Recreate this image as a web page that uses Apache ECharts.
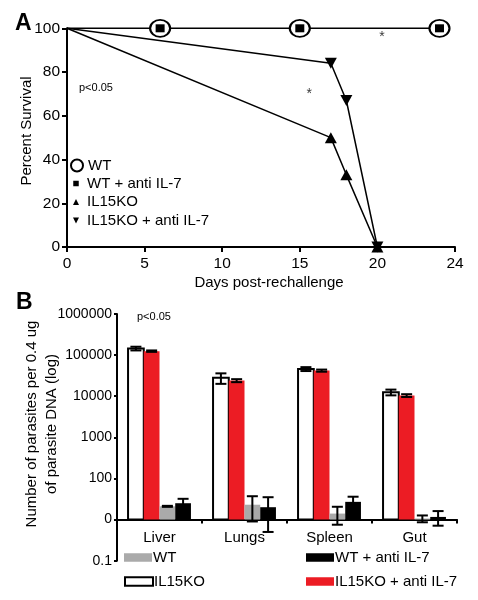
<!DOCTYPE html>
<html><head><meta charset="utf-8">
<script src="https://cdn.jsdelivr.net/npm/echarts@6/dist/echarts.min.js"></script>
<style>html,body{margin:0;padding:0;background:#fff}#c{width:478px;height:600px}</style>
</head><body><div id="c"></div>
<script>
// ---------- Panel A: survival ----------
const aXTickLabels = ['0', '5', '10', '15', '20', '24'];
const aYTickLabels = ['0', '20', '40', '60', '80', '100'];
const wtDays = [0, 6, 15, 24];
const wtSurv = [100, 100, 100, 100];
const wtAntiDays = [0, 6, 15, 24];
const wtAntiSurv = [100, 100, 100, 100];
const koDays = [0, 17, 18, 20];
const koSurv = [100, 50, 33, 0];
const koAntiDays = [0, 17, 18, 20];
const koAntiSurv = [100, 84, 67, 0];
const starX = [20.3, 15.6];
const starY = [96, 70];

// ---------- Panel B: parasite load ----------
const organs = ['Liver', 'Lungs', 'Spleen', 'Gut'];
const bYTickLabels = ['0.1', '0', '100', '1000', '10000', '100000', '1000000'];
const bBase = 10;
const koVals = [145000, 28000, 46000, 12500];
const koErr = [15000, 8000, 5000, 2000];
const koAntiVals = [125000, 24000, 42000, 10400];
const koAntiErr = [5000, 2000, 2500, 800];
const wtVals = [21, 23, 14, 10.6];
const wtErr = [0.6, 14, 6.5, 2];
const wtAntiVals = [25, 20, 27, 11.6];
const wtAntiErr = [7, 15, 9, 4.5];

const FONT = "'Liberation Sans', Arial, Helvetica, sans-serif";
const BLACK = '#000';

function linePts(xs, ys) {
  return xs.map((x, i) => i === 0 ? { value: [x, ys[i]], symbol: 'none' } : [x, ys[i]]);
}

function barSeries(name, vals, errs, k, style) {
  return {
    type: 'custom', name: name, xAxisIndex: 1, yAxisIndex: 1,
    data: vals.map((v, i) => [i, v, errs[i]]),
    encode: { x: 0, y: 1 },
    itemStyle: style,
    renderItem: function (params, api) {
      const c = api.value(0), v = api.value(1), e = api.value(2);
      const band = api.size([1, 0])[0];
      const bw = band * 0.185;
      const p = api.coord([c, v]);
      const b = api.coord([c, bBase]);
      const hi = api.coord([c, v + e]);
      const lo = api.coord([c, Math.max(v - e, 1.01)]);
      const cx = p[0] + (k - 1.5) * bw;
      const cap = 5.5;
      const es = { stroke: BLACK, lineWidth: 2 };
      return {
        type: 'group', children: [
          { type: 'rect', shape: { x: cx - bw / 2, y: p[1], width: bw, height: b[1] - p[1] }, style: api.style() },
          { type: 'line', shape: { x1: cx, y1: hi[1], x2: cx, y2: lo[1] }, style: es },
          { type: 'line', shape: { x1: cx - cap, y1: hi[1], x2: cx + cap, y2: hi[1] }, style: es },
          { type: 'line', shape: { x1: cx - cap, y1: lo[1], x2: cx + cap, y2: lo[1] }, style: es }
        ]
      };
    }
  };
}

const axisLineStyle = { show: true, onZero: false, lineStyle: { color: BLACK, width: 2 } };
const tickStyle = { show: true, length: 5, lineStyle: { color: BLACK, width: 2 } };

function legendItem(name, left, top, icon, w, h, itemStyle) {
  return {
    data: [name], left: left, top: top, orient: 'vertical', padding: 0,
    icon: icon, itemWidth: w, itemHeight: h, itemStyle: itemStyle,
    selectedMode: false,
    textStyle: { fontSize: 15, color: BLACK, fontFamily: FONT }
  };
}
function legendItemB(name, left, top, itemStyle) {
  const l = legendItem(name, left, top, 'rect', 28, 8.5, itemStyle);
  l.textStyle.padding = [0, 0, 0, -4];
  return l;
}

const chart = echarts.init(document.getElementById('c'), null, { renderer: 'canvas' });

const option = {
  backgroundColor: '#fff',
  animation: false,
  textStyle: { fontFamily: FONT },
  grid: [
    { left: 67, right: 23, top: 28.3, bottom: 353, outerBoundsMode: 'none', containLabel: false },
    { left: 117, right: 21, top: 314, bottom: 39.3, outerBoundsMode: 'none', containLabel: false }
  ],
  xAxis: [
    {
      gridIndex: 0, type: 'value', min: 0, max: 25, interval: 5,
      axisLine: axisLineStyle, axisTick: tickStyle, splitLine: { show: false },
      axisLabel: { fontSize: 15.5, color: BLACK, margin: 9, fontFamily: FONT,
        formatter: v => aXTickLabels[Math.round(v / 5)] }
    },
    {
      gridIndex: 1, type: 'category', data: organs, offset: 0,
      axisLine: { onZero: false, lineStyle: { color: BLACK, width: 2 } },
      axisTick: { show: true, length: 4, alignWithLabel: false, lineStyle: { color: BLACK, width: 2 } },
      axisLabel: { fontSize: 15, color: BLACK, margin: 11, fontFamily: FONT },
      splitLine: { show: false }
    }
  ],
  yAxis: [
    {
      gridIndex: 0, type: 'value', min: 0, max: 100, interval: 20,
      axisLine: axisLineStyle, axisTick: tickStyle, splitLine: { show: false },
      axisLabel: { fontSize: 15.5, color: BLACK, margin: 7, fontFamily: FONT,
        formatter: v => aYTickLabels[Math.round(v / 20)] }
    },
    {
      gridIndex: 1, type: 'log', logBase: 10, min: 1, max: 1000000, splitNumber: 6,
      axisLine: axisLineStyle,
      axisTick: { show: true, length: 3, lineStyle: { color: BLACK, width: 2 } },
      splitLine: { show: false }, minorTick: { show: false },
      axisLabel: { fontSize: 14, color: BLACK, margin: 5, fontFamily: FONT,
        formatter: v => bYTickLabels[Math.round(Math.log10(v))] }
    }
  ],
  legend: [
    legendItem('WT', 70, 158, 'circle', 12, 12, { color: '#fff', borderColor: BLACK, borderWidth: 2 }),
    legendItem('WT + anti IL-7', 73.25, 176, 'path://M0,0h10v10h-10z', 12, 5.5, { color: BLACK, borderWidth: 0 }),
    legendItem('IL15KO', 73, 194.5, 'path://M5,0L10,10L0,10z', 12, 6, { color: BLACK, borderWidth: 0 }),
    legendItem('IL15KO + anti IL-7', 73, 213, 'path://M0,0L10,0L5,10z', 12, 6, { color: BLACK, borderWidth: 0 }),
    legendItemB('WT', 124, 550, { color: '#aaaaaa', borderWidth: 0 }),
    legendItemB('IL15KO', 124, 574, { color: '#fff', borderColor: BLACK, borderWidth: 2 }),
    legendItemB('WT + anti IL-7', 306, 550, { color: BLACK, borderWidth: 0 }),
    legendItemB('IL15KO + anti IL-7', 306, 574, { color: '#ec1c24', borderWidth: 0 })
  ],
  graphic: [
    { type: 'text', x: 15, y: 24, style: { text: 'A', fontSize: 23, fontWeight: 'bold', fontFamily: FONT, fill: BLACK, verticalAlign: 'middle', textVerticalAlign: 'middle' } },
    { type: 'text', x: 16, y: 303, style: { text: 'B', fontSize: 23, fontWeight: 'bold', fontFamily: FONT, fill: BLACK, verticalAlign: 'middle', textVerticalAlign: 'middle' } },
    { type: 'text', x: 79, y: 88, style: { text: 'p<0.05', fontSize: 11, fontFamily: FONT, fill: BLACK, verticalAlign: 'middle', textVerticalAlign: 'middle' } },
    { type: 'text', x: 137, y: 317, style: { text: 'p<0.05', fontSize: 11, fontFamily: FONT, fill: BLACK, verticalAlign: 'middle', textVerticalAlign: 'middle' } },
    { type: 'text', x: 27, y: 131, rotation: Math.PI / 2, style: { text: 'Percent Survival', fontSize: 15, fontFamily: FONT, fill: BLACK, align: 'center', textAlign: 'center', verticalAlign: 'middle', textVerticalAlign: 'middle' } },
    { type: 'text', x: 269, y: 283, style: { text: 'Days post-rechallenge', fontSize: 15, fontFamily: FONT, fill: BLACK, align: 'center', textAlign: 'center', verticalAlign: 'middle', textVerticalAlign: 'middle' } },
    { type: 'text', x: 42, y: 424, rotation: Math.PI / 2, style: { text: 'Number of parasites per 0.4 ug\nof parasite DNA (log)', fontSize: 15, lineHeight: 20, fontFamily: FONT, fill: BLACK, align: 'center', textAlign: 'center', verticalAlign: 'middle', textVerticalAlign: 'middle' } }
  ],
  series: [
    {
      name: 'WT', type: 'line', xAxisIndex: 0, yAxisIndex: 0, clip: false,
      data: linePts(wtDays, wtSurv), symbol: 'circle', symbolSize: [20, 17],
      itemStyle: { color: '#fff', borderColor: BLACK, borderWidth: 2 },
      lineStyle: { color: BLACK, width: 1.5 }, z: 2
    },
    {
      name: 'WT + anti IL-7', type: 'line', xAxisIndex: 0, yAxisIndex: 0, clip: false,
      data: linePts(wtAntiDays, wtAntiSurv), symbol: 'rect', symbolSize: [9, 8],
      itemStyle: { color: BLACK }, lineStyle: { color: BLACK, width: 1.5, opacity: 0 }, z: 3
    },
    {
      name: 'IL15KO', type: 'line', xAxisIndex: 0, yAxisIndex: 0, clip: false,
      data: linePts(koDays, koSurv), symbol: 'triangle', symbolSize: [12, 11],
      itemStyle: { color: BLACK }, lineStyle: { color: BLACK, width: 1.5 }, z: 3
    },
    {
      name: 'IL15KO + anti IL-7', type: 'line', xAxisIndex: 0, yAxisIndex: 0, clip: false,
      data: linePts(koAntiDays, koAntiSurv), symbol: 'triangle', symbolRotate: 180, symbolSize: [12, 11],
      itemStyle: { color: BLACK }, lineStyle: { color: BLACK, width: 1.5 }, z: 3
    },
    {
      name: 'annot', type: 'scatter', xAxisIndex: 0, yAxisIndex: 0,
      data: starX.map((x, i) => [x, starY[i]]), symbolSize: 1,
      itemStyle: { color: 'rgba(0,0,0,0)' },
      label: { show: true, position: 'inside', formatter: '*', fontSize: 14, color: BLACK, fontFamily: FONT }
    },
    barSeries('IL15KO', koVals, koErr, 0, { color: '#fff', borderColor: BLACK, borderWidth: 2 }),
    barSeries('IL15KO + anti IL-7', koAntiVals, koAntiErr, 1, { color: '#ec1c24' }),
    barSeries('WT', wtVals, wtErr, 2, { color: '#aaaaaa' }),
    barSeries('WT + anti IL-7', wtAntiVals, wtAntiErr, 3, { color: BLACK })
  ]
};

chart.setOption(option);
// put the category axis line where the log axis passes through the base value
const yBase = chart.convertToPixel({ yAxisIndex: 1 }, bBase);
const yBottom = chart.convertToPixel({ yAxisIndex: 1 }, 1);
chart.setOption({ xAxis: [{}, { offset: yBase - yBottom }] });
</script>
</body></html>
